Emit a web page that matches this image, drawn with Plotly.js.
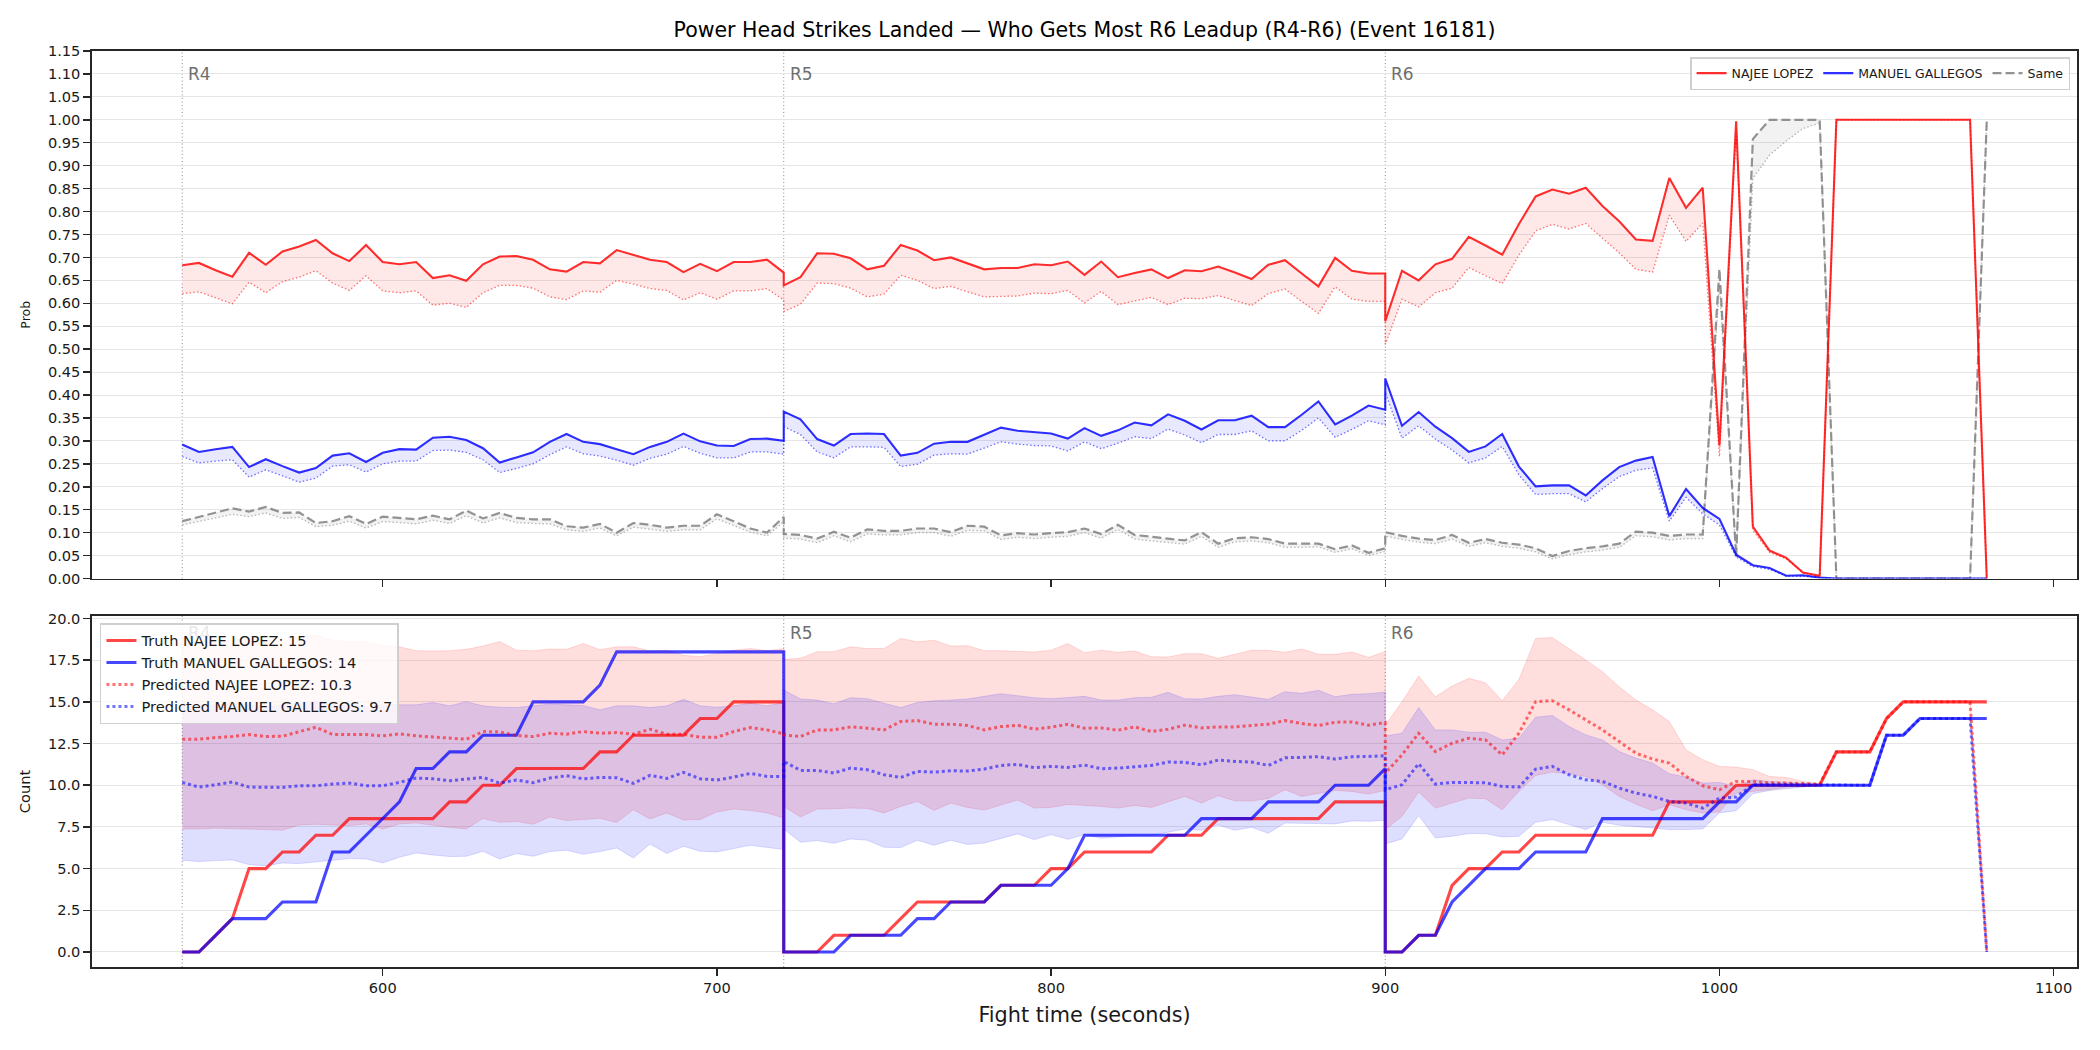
<!DOCTYPE html>
<html>
<head>
<meta charset="utf-8">
<script src="https://cdn.plot.ly/plotly-3.0.1.min.js"></script>
<style>
  html, body { margin: 0; padding: 0; background: #ffffff; }
  #chart { width: 2100px; height: 1050px; }
</style>
</head>
<body>
<div id="chart"></div>
<script>
// ---- sampling: one value every 5 s, 37 samples per round ----
const roundStarts = [540, 720, 900];
const roundLabels = ['R4', 'R5', 'R6'];
const sampleStep = 5;
const samplesPerRound = 37;
const xTicks = [600, 700, 800, 900, 1000, 1100];

// ---- win probabilities (top panel) ----
const najeeProbR4 = [0.683,0.688,0.672,0.658,0.710,0.684,0.713,0.724,0.738,0.709,0.692,0.727,0.690,0.685,0.690,0.655,0.661,0.649,0.685,0.702,0.703,0.695,0.674,0.669,0.690,0.687,0.716,0.706,0.695,0.690,0.668,0.686,0.670,0.690,0.690,0.695,0.667];
const najeeProbR5 = [0.639,0.657,0.709,0.708,0.698,0.674,0.682,0.727,0.715,0.694,0.700,0.687,0.674,0.677,0.677,0.685,0.683,0.691,0.662,0.691,0.657,0.666,0.674,0.655,0.672,0.670,0.680,0.667,0.653,0.684,0.694,0.665,0.637,0.699,0.671,0.665,0.665];
const najeeProbR6 = [0.561,0.671,0.650,0.685,0.697,0.745,0.726,0.706,0.773,0.833,0.848,0.839,0.852,0.812,0.779,0.739,0.736,0.873,0.808,0.852,0.290,0.997,0.113,0.061,0.045,0.013,0.006,1,1,1,1,1,1,1,1,1,0];

const najeeFloorR4 = [0.621,0.625,0.612,0.599,0.646,0.623,0.647,0.657,0.671,0.644,0.628,0.660,0.627,0.623,0.627,0.596,0.600,0.591,0.623,0.639,0.639,0.633,0.614,0.608,0.627,0.624,0.650,0.642,0.632,0.628,0.607,0.623,0.609,0.627,0.627,0.632,0.607];
const najeeFloorR5 = [0.582,0.598,0.644,0.643,0.633,0.614,0.620,0.661,0.650,0.632,0.637,0.625,0.614,0.615,0.616,0.622,0.621,0.628,0.601,0.626,0.597,0.605,0.613,0.597,0.611,0.610,0.617,0.606,0.595,0.621,0.631,0.604,0.578,0.636,0.609,0.604,0.604];
const najeeFloorR6 = [0.510,0.609,0.592,0.623,0.633,0.678,0.660,0.643,0.705,0.758,0.772,0.762,0.774,0.743,0.710,0.674,0.668,0.792,0.735,0.775,0.266,0.980,0.105,0.057,0.043,0.012,0.005,1,1,1,1,1,1,1,1,1,0];

const manuelProbR4 = [0.292,0.276,0.282,0.287,0.243,0.260,0.245,0.231,0.241,0.268,0.273,0.254,0.274,0.282,0.281,0.307,0.309,0.302,0.284,0.253,0.264,0.275,0.298,0.315,0.298,0.293,0.282,0.271,0.287,0.298,0.316,0.299,0.290,0.289,0.304,0.305,0.300];
const manuelProbR5 = [0.364,0.347,0.304,0.290,0.315,0.316,0.315,0.268,0.274,0.294,0.298,0.298,0.313,0.329,0.322,0.319,0.316,0.305,0.328,0.311,0.323,0.340,0.334,0.358,0.344,0.325,0.345,0.345,0.355,0.330,0.330,0.357,0.386,0.336,0.355,0.377,0.368];
const manuelProbR6 = [0.436,0.333,0.363,0.331,0.306,0.276,0.288,0.315,0.244,0.201,0.203,0.203,0.181,0.214,0.243,0.257,0.265,0.136,0.195,0.154,0.130,0.052,0.029,0.023,0.006,0.007,0.002,0,0,0,0,0,0,0,0,0,0];

const manuelFloorR4 = [0.266,0.252,0.256,0.259,0.221,0.237,0.224,0.210,0.219,0.245,0.248,0.232,0.250,0.256,0.256,0.279,0.280,0.275,0.259,0.231,0.240,0.250,0.270,0.287,0.272,0.267,0.258,0.247,0.262,0.271,0.288,0.273,0.263,0.263,0.276,0.276,0.271];
const manuelFloorR5 = [0.331,0.314,0.276,0.263,0.287,0.287,0.286,0.244,0.249,0.269,0.272,0.271,0.284,0.298,0.293,0.290,0.289,0.278,0.298,0.283,0.295,0.309,0.305,0.326,0.313,0.296,0.314,0.314,0.322,0.300,0.300,0.323,0.350,0.308,0.325,0.344,0.335];
const manuelFloorR6 = [0.405,0.306,0.333,0.304,0.280,0.252,0.263,0.288,0.226,0.183,0.185,0.185,0.167,0.196,0.222,0.236,0.241,0.125,0.177,0.141,0.117,0.047,0.026,0.020,0.005,0.005,0.002,0,0,0,0,0,0,0,0,0,0];

const sameProbR4 = [0.125,0.134,0.144,0.153,0.146,0.156,0.143,0.144,0.121,0.125,0.136,0.119,0.135,0.132,0.129,0.137,0.129,0.148,0.131,0.143,0.132,0.129,0.129,0.114,0.111,0.119,0.100,0.121,0.117,0.111,0.115,0.115,0.140,0.125,0.109,0.100,0.134];
const sameProbR5 = [0.097,0.095,0.087,0.102,0.089,0.107,0.104,0.104,0.109,0.109,0.101,0.115,0.113,0.094,0.099,0.096,0.099,0.101,0.109,0.097,0.117,0.095,0.091,0.087,0.083,0.101,0.076,0.088,0.090,0.086,0.076,0.076,0.076,0.064,0.072,0.056,0.066];
const sameProbR6 = [0.101,0.093,0.087,0.084,0.095,0.078,0.086,0.078,0.074,0.066,0.049,0.060,0.066,0.070,0.076,0.102,0.100,0.093,0.096,0.096,0.675,0.047,0.958,1,1,1,1,0,0,0,0,0,0,0,0,0,1];

const sameFloorR4 = [0.117,0.124,0.132,0.140,0.135,0.143,0.131,0.133,0.113,0.116,0.125,0.110,0.124,0.122,0.119,0.127,0.120,0.137,0.121,0.132,0.122,0.120,0.119,0.106,0.103,0.110,0.093,0.112,0.108,0.103,0.106,0.106,0.130,0.116,0.101,0.093,0.124];
const sameFloorR5 = [0.088,0.086,0.078,0.093,0.080,0.097,0.095,0.095,0.100,0.100,0.092,0.105,0.104,0.085,0.090,0.087,0.090,0.092,0.100,0.088,0.107,0.086,0.082,0.079,0.075,0.092,0.068,0.080,0.082,0.078,0.068,0.068,0.069,0.057,0.065,0.050,0.059];
const sameFloorR6 = [0.092,0.085,0.079,0.076,0.086,0.070,0.078,0.070,0.066,0.058,0.043,0.052,0.058,0.062,0.068,0.093,0.091,0.084,0.087,0.087,0.640,0.045,0.872,0.923,0.954,0.981,0.993,0,0,0,0,0,0,0,0,0,1];

// ---- strike counts (bottom panel) ----
const truthNajeeR4 = [0,0,1,2,5,5,6,6,7,7,8,8,8,8,8,8,9,9,10,10,11,11,11,11,11,12,12,13,13,13,13,14,14,15,15,15,15];
const truthNajeeR5 = [0,0,0,1,1,1,1,2,3,3,3,3,3,4,4,4,5,5,6,6,6,6,6,7,7,7,8,8,8,8,8,8,8,9,9,9,9];
const truthNajeeR6 = [0,0,1,1,4,5,5,6,6,7,7,7,7,7,7,7,7,9,9,9,9,10,10,10,10,10,10,12,12,12,14,15,15,15,15,15,15];

const truthManuelR4 = [0,0,1,2,2,2,3,3,3,6,6,7,8,9,11,11,12,12,13,13,13,15,15,15,15,16,18,18,18,18,18,18,18,18,18,18,18];
const truthManuelR5 = [0,0,0,0,1,1,1,1,2,2,3,3,3,4,4,4,4,5,7,7,7,7,7,7,7,8,8,8,8,9,9,9,9,10,10,10,11];
const truthManuelR6 = [0,0,1,1,3,4,5,5,5,6,6,6,6,8,8,8,8,8,8,8,9,9,10,10,10,10,10,10,10,10,13,13,14,14,14,14,14];

const predNajeeR4 = [12.76,12.76,12.86,12.92,13.04,12.92,12.94,13.22,13.48,13.04,13.02,13.04,12.96,13.08,12.96,12.90,12.80,12.76,13.22,13.20,12.98,12.92,13.12,13.06,13.22,13.12,13.16,13.06,13.36,13.06,13.06,12.88,12.88,13.22,13.46,13.32,13.08];
const predNajeeR5 = [13.02,12.92,13.32,13.32,13.50,13.42,13.32,13.82,13.88,13.66,13.66,13.58,13.32,13.52,13.60,13.36,13.48,13.66,13.42,13.44,13.30,13.50,13.22,13.36,13.60,13.44,13.50,13.50,13.56,13.66,13.88,13.70,13.58,13.78,13.80,13.60,13.76];
const predNajeeR6 = [10.73,11.82,13.12,12.02,12.52,12.82,12.72,11.82,13.12,15.01,15.07,14.52,13.92,13.32,12.62,11.92,11.57,11.33,10.53,9.97,9.73,10.23,10.23,10.15,10.13,10.09,10.07,12,12,12,14,15,15,15,15,15,0];

const predManuelR4 = [10.17,9.89,10.03,10.19,9.89,9.89,9.87,9.97,9.97,10.07,10.13,9.97,9.97,10.17,10.43,10.39,10.27,10.37,10.47,10.13,10.31,10.15,10.43,10.57,10.39,10.47,10.45,10.11,10.59,10.41,10.77,10.39,10.31,10.49,10.71,10.53,10.53];
const predManuelR5 = [11.43,10.89,10.89,10.73,11.03,10.93,10.63,10.47,10.83,10.79,10.87,10.85,10.97,11.19,11.25,11.05,11.13,11.07,11.21,10.99,11.03,11.13,11.19,11.39,11.37,11.23,11.51,11.43,11.39,11.19,11.65,11.67,11.71,11.57,11.71,11.73,11.77];
const predManuelR6 = [9.73,10.03,11.29,10.07,10.17,10.17,10.15,9.93,9.89,10.97,11.13,10.63,10.33,10.23,9.83,9.53,9.33,9.03,8.93,8.63,9.23,9.29,10.03,10.03,10.03,10.03,10.03,10,10,10,13,13,14,14,14,14,0];

const najeeHighR4 = [18.5,18.6,18.6,18.7,18.8,18.7,18.6,18.9,19.0,18.7,18.6,18.6,18.4,18.3,18.07,18.05,18.07,18.15,18.35,18.62,18.10,18.07,18.17,18.15,18.50,18.13,18.30,18.30,18.05,18.10,17.79,17.71,17.91,18.10,18.20,18.07,18.20];
const najeeHighR5 = [17.55,17.61,18.01,18.01,18.30,18.20,18.20,18.80,18.60,18.70,18.35,18.37,18.07,18.07,18.05,17.99,18.10,18.50,17.95,18.10,17.97,18.05,17.71,17.69,17.89,17.89,17.61,17.87,18.09,18.09,17.97,18.17,17.85,17.85,17.99,17.67,18.01];
const najeeHighR6 = [13.6,15.0,16.55,15.31,15.95,16.41,16.15,15.07,16.35,18.80,18.86,18.20,17.51,16.81,15.91,15.11,14.52,13.82,12.12,11.53,11.13,11.09,10.93,10.53,10.47,10.23,10.07,12,12,12,14,15,15,15,15,15,0];

const najeeLowR4 = [7.38,7.38,7.42,7.42,7.38,7.34,7.30,7.62,7.66,7.62,7.58,7.68,7.38,7.68,7.74,7.58,7.46,7.38,8.00,7.78,7.82,7.66,8.10,7.88,7.94,8.02,7.76,8.53,7.98,8.34,7.92,7.94,8.40,8.57,8.49,8.34,8.04];
const najeeLowR5 = [8.73,8.10,8.57,8.59,8.63,8.61,8.34,8.73,9.03,8.49,8.93,8.67,8.51,8.83,9.11,8.63,8.67,8.85,8.77,8.73,8.63,8.79,8.67,8.99,9.33,8.93,9.37,9.07,9.05,9.21,9.73,9.33,9.53,9.69,9.63,9.47,9.69];
const najeeLowR6 = [7.34,8.14,9.59,8.63,8.93,9.23,9.19,8.53,9.63,10.59,10.79,10.69,10.53,10.03,9.33,8.87,8.47,8.83,8.53,8.34,8.40,9.53,9.63,9.73,9.89,9.93,10.03,12,12,12,14,15,15,15,15,15,0];

const manuelHighR4 = [14.9,14.8,14.8,14.9,14.8,14.7,14.8,14.9,15.0,14.8,14.8,14.7,14.8,14.82,14.82,14.96,14.76,15.01,14.76,14.68,14.66,14.76,14.86,14.82,14.78,14.52,14.76,14.76,14.66,14.76,15.15,14.76,14.68,14.76,14.92,14.76,14.96];
const manuelHighR5 = [15.71,15.17,15.11,14.88,15.25,15.19,14.92,14.66,14.96,15.07,15.11,15.17,15.33,15.49,15.37,15.25,15.19,15.27,15.33,15.11,15.11,15.25,15.27,15.57,15.19,15.17,15.33,15.43,15.29,15.15,15.61,15.51,15.69,15.31,15.45,15.49,15.59];
const manuelHighR6 = [12.96,13.12,14.66,13.32,13.32,13.18,13.18,12.72,12.82,14.08,14.18,13.52,13.02,12.72,12.02,11.63,11.33,10.69,10.49,10.13,10.17,9.93,10.33,10.23,10.17,10.13,10.07,10,10,10,13,13,14,14,14,14,0];

const manuelLowR4 = [5.50,5.42,5.48,5.52,5.24,5.16,5.34,5.30,5.38,5.50,5.60,5.58,5.34,5.68,5.94,5.82,5.72,5.74,6.04,5.58,5.90,5.74,6.02,6.10,5.86,6.02,6.24,5.64,6.48,5.90,6.34,6.04,6.00,6.20,6.40,6.28,6.14];
const manuelLowR5 = [7.38,6.58,6.68,6.52,6.78,6.70,6.28,6.26,6.70,6.40,6.70,6.44,6.54,6.82,7.08,6.74,7.04,6.76,7.04,6.82,6.90,6.98,6.98,7.18,7.38,7.30,7.62,7.30,7.48,7.12,7.74,7.74,7.70,7.68,7.86,7.84,7.90];
const manuelLowR6 = [6.48,6.78,8.18,6.84,6.94,7.10,7.10,6.90,6.94,7.78,7.94,7.64,7.34,7.78,7.60,7.50,7.44,7.34,7.34,7.38,8.34,8.47,9.49,9.69,9.79,9.89,10.03,10,10,10,13,13,14,14,14,14,0];

// ---- helpers ----
const join = (a, b, c) => a.concat(b, c);
const roundClock = start => Array.from({length: samplesPerRound}, (_, i) => start + i * sampleStep);
const t = join(roundClock(roundStarts[0]), roundClock(roundStarts[1]), roundClock(roundStarts[2]));

const najeeProb   = join(najeeProbR4, najeeProbR5, najeeProbR6);
const najeeFloor  = join(najeeFloorR4, najeeFloorR5, najeeFloorR6);
const manuelProb  = join(manuelProbR4, manuelProbR5, manuelProbR6);
const manuelFloor = join(manuelFloorR4, manuelFloorR5, manuelFloorR6);
const sameProb    = join(sameProbR4, sameProbR5, sameProbR6);
const sameFloor   = join(sameFloorR4, sameFloorR5, sameFloorR6);
const truthNajee  = join(truthNajeeR4, truthNajeeR5, truthNajeeR6);
const truthManuel = join(truthManuelR4, truthManuelR5, truthManuelR6);
const predNajee   = join(predNajeeR4, predNajeeR5, predNajeeR6);
const predManuel  = join(predManuelR4, predManuelR5, predManuelR6);
const najeeHigh   = join(najeeHighR4, najeeHighR5, najeeHighR6);
const najeeLow    = join(najeeLowR4, najeeLowR5, najeeLowR6);
const manuelHigh  = join(manuelHighR4, manuelHighR5, manuelHighR6);
const manuelLow   = join(manuelLowR4, manuelLowR5, manuelLowR6);

const FONT = 'DejaVu Sans, Liberation Sans, sans-serif';

// closed polygon between an upper and a lower series
function band(upper, lower, color, xa, ya, edge) {
  return {
    x: t.concat(t.slice().reverse()),
    y: upper.concat(lower.slice().reverse()),
    xaxis: xa, yaxis: ya,
    type: 'scatter', mode: 'lines',
    fill: 'toself', fillcolor: color,
    line: {width: edge ? 1 : 0, color: edge || color},
    showlegend: false, hoverinfo: 'skip'
  };
}
function line(y, color, width, dash, xa, ya, extra) {
  return Object.assign({
    x: t, y: y, xaxis: xa, yaxis: ya,
    type: 'scatter', mode: 'lines',
    line: {color: color, width: width, dash: dash},
    showlegend: false, hoverinfo: 'skip'
  }, extra || {});
}

const traces = [
  // top panel: probability ribbons
  band(najeeProb, najeeFloor, 'rgba(255,0,0,0.09)', 'x', 'y'),
  band(manuelProb, manuelFloor, 'rgba(0,0,255,0.09)', 'x', 'y'),
  band(sameProb, sameFloor, 'rgba(128,128,128,0.10)', 'x', 'y'),
  line(najeeFloor, 'rgba(255,0,0,0.55)', 1.3, '1.5px,2.2px', 'x', 'y'),
  line(manuelFloor, 'rgba(0,0,255,0.55)', 1.3, '1.5px,2.2px', 'x', 'y'),
  line(sameFloor, 'rgba(128,128,128,0.55)', 1.3, '1.5px,2.2px', 'x', 'y'),
  line(sameProb, 'rgba(128,128,128,0.85)', 2.2, '9px,4px', 'x', 'y',
       {name: 'Same', showlegend: true, legend: 'legend', legendrank: 3}),
  line(manuelProb, 'rgba(0,0,255,0.82)', 2.1, 'solid', 'x', 'y',
       {name: 'MANUEL GALLEGOS', showlegend: true, legend: 'legend', legendrank: 2}),
  line(najeeProb, 'rgba(255,0,0,0.82)', 2.1, 'solid', 'x', 'y',
       {name: 'NAJEE LOPEZ', showlegend: true, legend: 'legend', legendrank: 1}),

  // bottom panel: predicted ranges, truth and prediction
  band(najeeHigh, najeeLow, 'rgba(255,0,0,0.13)', 'x2', 'y2', 'rgba(255,0,0,0.13)'),
  band(manuelHigh, manuelLow, 'rgba(0,0,255,0.13)', 'x2', 'y2', 'rgba(0,0,255,0.13)'),
  line(truthNajee, 'rgba(255,0,0,0.72)', 3.1, 'solid', 'x2', 'y2',
       {name: 'Truth NAJEE LOPEZ: 15', showlegend: true, legend: 'legend2', legendrank: 1}),
  line(truthManuel, 'rgba(0,0,255,0.72)', 3.1, 'solid', 'x2', 'y2',
       {name: 'Truth MANUEL GALLEGOS: 14', showlegend: true, legend: 'legend2', legendrank: 2}),
  line(predNajee, 'rgba(255,0,0,0.55)', 3, 'dot', 'x2', 'y2',
       {name: 'Predicted NAJEE LOPEZ: 10.3', showlegend: true, legend: 'legend2', legendrank: 3}),
  line(predManuel, 'rgba(0,0,255,0.55)', 3, 'dot', 'x2', 'y2',
       {name: 'Predicted MANUEL GALLEGOS: 9.7', showlegend: true, legend: 'legend2', legendrank: 4})
];

const axisLine = {showline: true, mirror: true, linecolor: '#262626', linewidth: 1.7,
                  ticks: 'outside', ticklen: 7, tickwidth: 1.5, tickcolor: '#262626',
                  zeroline: false, fixedrange: true,
                  tickfont: {family: FONT, size: 14.6, color: '#1a1a1a'}};

// round boundary markers in both panels; the first label of the lower panel
// sits under the legend box, so it is drawn washed out
const shapes = [];
const annotations = [];
roundStarts.forEach((s, i) => {
  [['x', 'y domain'], ['x2', 'y2 domain']].forEach(([xr, yr]) => {
    shapes.push({type: 'line', xref: xr, yref: yr, x0: s, x1: s, y0: 0, y1: 1,
                 line: {color: 'rgba(90,90,90,0.7)', width: 1, dash: '1px,2.5px'}, layer: 'below'});
  });
  annotations.push({xref: 'x', yref: 'y', x: s, y: 1.10, text: roundLabels[i], showarrow: false,
                    xanchor: 'left', yanchor: 'middle', xshift: 4,
                    font: {family: FONT, size: 17, color: '#6e6e6e'}});
  annotations.push({xref: 'x2', yref: 'y2', x: s, y: 19.15, text: roundLabels[i], showarrow: false,
                    xanchor: 'left', yanchor: 'middle', xshift: 4,
                    font: {family: FONT, size: 17, color: i === 0 ? 'rgba(110,110,110,0.18)' : '#6e6e6e'}});
});

const layout = {
  width: 2100, height: 1050,
  margin: {l: 92, r: 23, t: 51, b: 83},
  paper_bgcolor: '#ffffff', plot_bgcolor: '#ffffff',
  font: {family: FONT, color: '#1a1a1a'},
  title: {text: 'Power Head Strikes Landed — Who Gets Most R6 Leadup (R4-R6) (Event 16181)',
          x: 0.5, xref: 'paper', xanchor: 'center', y: 1 - 30 / 1050, yanchor: 'middle',
          font: {family: FONT, size: 20.5, color: '#000'}},
  xaxis: Object.assign({}, axisLine, {anchor: 'y', range: [513, 1107], tickvals: xTicks,
          showticklabels: false, showgrid: false, domain: [0, 1]}),
  yaxis: Object.assign({}, axisLine, {anchor: 'x', domain: [0.4241, 1], range: [0, 1.15],
          dtick: 0.05, tick0: 0, tickformat: '.2f', showgrid: true, gridcolor: '#e6e6e6', gridwidth: 1,
          title: {text: 'Prob', standoff: 14, font: {family: FONT, size: 12.5, color: '#1a1a1a'}}}),
  xaxis2: Object.assign({}, axisLine, {anchor: 'y2', range: [513, 1107], tickvals: xTicks,
          ticktext: xTicks.map(String), showgrid: false, domain: [0, 1],
          title: {text: 'Fight time (seconds)', standoff: 12, font: {family: FONT, size: 20.8, color: '#1a1a1a'}}}),
  yaxis2: Object.assign({}, axisLine, {anchor: 'x2', domain: [0, 0.3832], range: [-0.9, 20.15],
          dtick: 2.5, tick0: 0, tickformat: '.1f', showgrid: true, gridcolor: '#e6e6e6', gridwidth: 1,
          title: {text: 'Count', standoff: 14, font: {family: FONT, size: 14.6, color: '#1a1a1a'}}}),
  legend: {orientation: 'h', x: 0.9965, xanchor: 'right', y: 0.9934, yanchor: 'top',
           bgcolor: 'rgba(255,255,255,0.8)', bordercolor: '#cfcfcf', borderwidth: 1.5,
           font: {family: FONT, size: 12.5, color: '#1a1a1a'}},
  legend2: {orientation: 'v', x: 0.004, xanchor: 'left', y: 0.3755, yanchor: 'top',
            bgcolor: 'rgba(255,255,255,0.8)', bordercolor: '#cfcfcf', borderwidth: 1.5,
            tracegroupgap: 0, font: {family: FONT, size: 14.6, color: '#1a1a1a'}},
  shapes: shapes,
  annotations: annotations,
  showlegend: true
};

Plotly.newPlot('chart', traces, layout, {displayModeBar: false, staticPlot: true});
</script>
</body>
</html>
